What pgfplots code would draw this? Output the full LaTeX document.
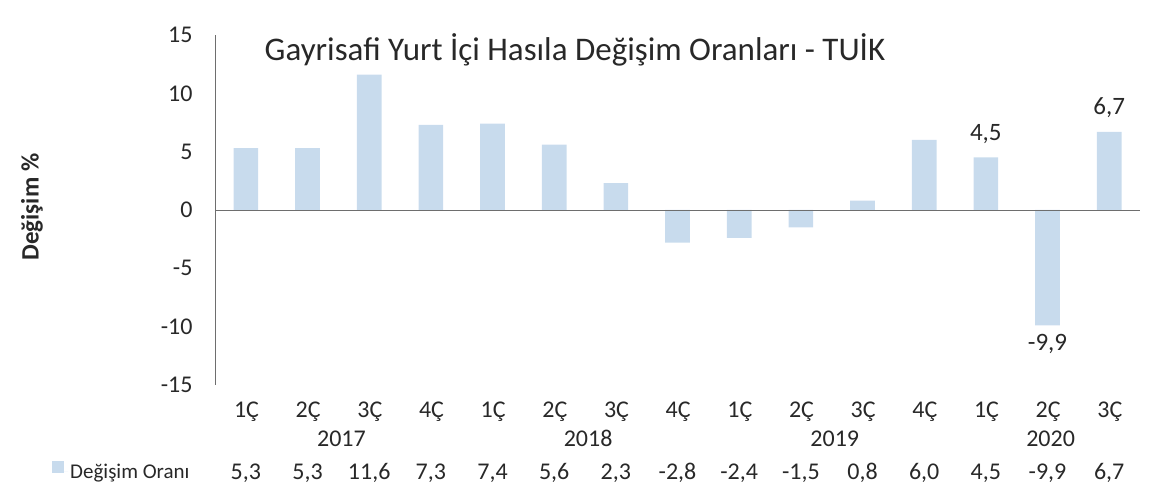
\documentclass[border=0pt]{standalone}
\usepackage{pgfplots}
\pgfplotsset{compat=1.18}
\usepackage{fontspec}
\setmainfont{Carlito}
\definecolor{barblue}{RGB}{200,219,237}
\definecolor{axgray}{RGB}{110,110,110}
\definecolor{txt}{RGB}{40,40,40}
\begin{document}
\begin{tikzpicture}
\useasboundingbox (0,0) rectangle (1161pt,497pt);
\begin{axis}[
  at={(215pt,112pt)}, anchor=south west,
  scale only axis, width=925pt, height=350pt,
  xmin=-0.5, xmax=14.5, ymin=-15, ymax=15,
  ytick={-15,-10,...,15},
  axis x line=none,
  axis y line*=left,
  y axis line style={draw=axgray, line width=0.8pt, -},
  ytick style={draw=none},
  yticklabel style={font=\fontsize{24}{27}\selectfont, text=txt, xshift=-19pt},
  /pgf/number format/assume math mode=true,
  ybar, bar width=0.4, bar shift=0pt,
  clip=false,
  legend style={at={(-215pt,-112pt)}, anchor=south west, draw=none, fill=none,
    font=\fontsize{21}{25}\selectfont, text=txt, inner sep=0pt,
    xshift=52pt, yshift=15pt},
  legend image code/.code={\fill[barblue] (0pt,-1pt) rectangle (12pt,11pt); \path (0pt,0pt) -- (16pt,0pt);},
]
\addplot[fill=barblue, draw=none] coordinates {
 (0,5.3) (1,5.3) (2,11.6) (3,7.3) (4,7.4) (5,5.6) (6,2.3) (7,-2.8)
 (8,-2.4) (9,-1.5) (10,0.8) (11,6.0) (12,4.5) (13,-9.9) (14,6.7)};
\addlegendentry{Değişim Oranı}
\addplot[draw=none, fill=none, forget plot,
  nodes near coords, nodes near coords align={vertical},
  every node near coord/.append style={font=\fontsize{25}{28}\selectfont, text=txt, inner sep=14pt},
  /pgf/number format/.cd, use comma, fixed, fixed zerofill, precision=1, assume math mode=true]
  coordinates {(12,4.5) (14,6.7)};
\addplot[draw=none, fill=none, forget plot,
  nodes near coords, nodes near coords align={vertical},
  every node near coord/.append style={font=\fontsize{25}{28}\selectfont, text=txt, inner sep=9pt},
  /pgf/number format/.cd, use comma, fixed, fixed zerofill, precision=1, assume math mode=true]
  coordinates {(13,-9.9)};
\draw[axgray, line width=0.8pt] (axis cs:-0.5,0) -- (axis cs:14.5,0);
\end{axis}
\node[anchor=base, font=\fontsize{33}{38}\selectfont, text=txt] at (575pt,436pt) {Gayrisafi Yurt İçi Hasıla Değişim Oranları - TUİK};
\node[anchor=center, rotate=90, font=\bfseries\fontsize{25}{28}\selectfont, text=txt] at (32pt,290pt) {Değişim \%};
\foreach \q [count=\i from 0] in {1Ç,2Ç,3Ç,4Ç,1Ç,2Ç,3Ç,4Ç,1Ç,2Ç,3Ç,4Ç,1Ç,2Ç,3Ç}{
  \node[anchor=base, font=\fontsize{24}{28}\selectfont, text=txt] at ({246.5pt+61.667pt*\i},79pt) {\q};
}
\foreach \y/\c in {2017/1.55,2018/5.55,2019/9.55,2020/13.05}{
  \node[anchor=base, font=\fontsize{24}{28}\selectfont, text=txt] at ({245.83pt+61.667pt*\c},50pt) {\y};
}
\foreach \v [count=\i from 0] in {{5,3},{5,3},{11,6},{7,3},{7,4},{5,6},{2,3},{-2,8},{-2,4},{-1,5},{0,8},{6,0},{4,5},{-9,9},{6,7}}{
  \node[anchor=base, font=\fontsize{24}{28}\selectfont, text=txt] at ({245.83pt+61.667pt*\i},17pt) {\v};
}
\end{tikzpicture}
\end{document}
